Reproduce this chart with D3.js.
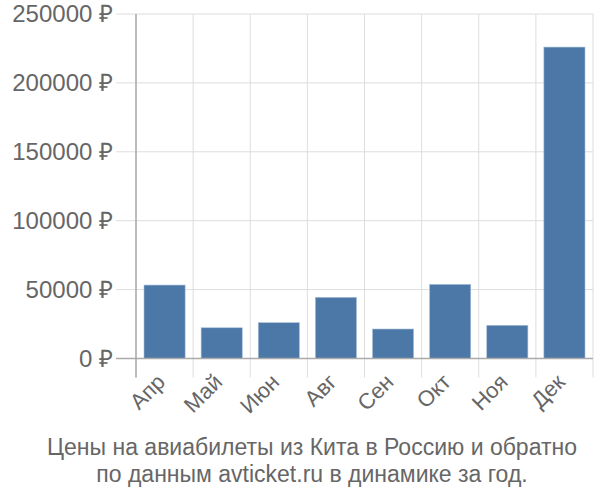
<!DOCTYPE html>
<html><head><meta charset="utf-8">
<script src="https://cdn.jsdelivr.net/npm/d3@7"></script>
<style>body{margin:0;background:#fff}svg{display:block}text{font-family:"Liberation Sans",Arial,sans-serif}</style>
</head><body><svg id="c" width="600" height="500"></svg>
<script>
const categories = ["Апр","Май","Июн","Авг","Сен","Окт","Ноя","Дек"];
const prices = [53300, 22300, 26000, 44400, 21400, 53800, 24100, 226000];
const yTicks = [0, 50000, 100000, 150000, 200000, 250000];
const titleLines = ["Цены на авиабилеты из Кита в Россию и обратно", "по данным avticket.ru в динамике за год."];

const svg = d3.select("#c");
const L = 136, R = 593, T = 14, B = 358.5;
const x = d3.scaleBand().domain(categories).range([L, R]).paddingInner(0.28).paddingOuter(0.14);
const xb = d3.scaleBand().domain(categories).range([L, R]);
const y = d3.scaleLinear().domain([0, 250000]).range([B, T]);

svg.append("g").selectAll("line").data(yTicks).join("line")
  .attr("x1", 116).attr("x2", R).attr("y1", d => y(d)).attr("y2", d => y(d))
  .attr("stroke", "#dddddd").attr("stroke-width", 1);
const vx = categories.map(c => xb(c)).concat([R]);
svg.append("g").selectAll("line").data(vx).join("line")
  .attr("x1", d => d).attr("x2", d => d).attr("y1", T).attr("y2", B + 19)
  .attr("stroke", "#dddddd").attr("stroke-width", 1);

svg.append("g").selectAll("rect").data(prices).join("rect")
  .attr("x", (d, i) => x(categories[i]))
  .attr("width", x.bandwidth())
  .attr("y", d => y(d))
  .attr("height", d => B - y(d))
  .attr("fill", "#4c78a8")
  .attr("stroke", "#a9c0da").attr("stroke-width", 0.6);

svg.append("line").attr("x1", L).attr("x2", L).attr("y1", T).attr("y2", B + 19).attr("stroke", "#aaaaaa").attr("stroke-width", 1.5);
svg.append("line").attr("x1", 116).attr("x2", R).attr("y1", B).attr("y2", B).attr("stroke", "#aaaaaa").attr("stroke-width", 1.5);

svg.append("g").selectAll("text").data(yTicks).join("text")
  .attr("x", 113).attr("y", d => y(d)).attr("dy", "0.35em")
  .attr("text-anchor", "end").attr("font-size", 24).attr("fill", "#666666")
  .text(d => d + " ₽");

svg.append("g").selectAll("text").data(categories).join("text")
  .attr("text-anchor", "end").attr("font-size", 22).attr("fill", "#666666")
  .attr("transform", d => `translate(${xb(d) + xb.bandwidth()/2 - 9},${B + 14}) rotate(-45)`)
  .attr("dy", "0.7em")
  .text(d => d);

svg.append("g").selectAll("text").data(titleLines).join("text")
  .attr("x", 312).attr("y", (d, i) => 455 + i * 27)
  .attr("text-anchor", "middle").attr("font-size", 23).attr("fill", "#666666")
  .text(d => d);
</script></body></html>
